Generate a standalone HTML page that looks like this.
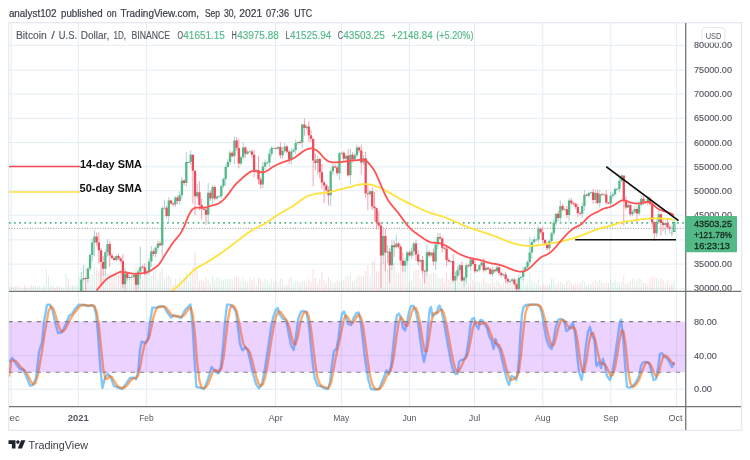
<!DOCTYPE html><html><head><meta charset="utf-8"><title>Bitcoin / U.S. Dollar</title>
<style>html,body{margin:0;padding:0;background:#fff;overflow:hidden}svg{display:block}text{font-family:"Liberation Sans","DejaVu Sans",sans-serif}</style></head><body>
<svg width="750" height="460" viewBox="0 0 750 460">
<rect width="750" height="460" fill="#fff"/>
<defs><filter id="bl" x="0" y="0" width="750" height="460" filterUnits="userSpaceOnUse"><feGaussianBlur stdDeviation="0.35"/></filter><clipPath id="cm"><rect x="9" y="23" width="676.6" height="268"/></clipPath><clipPath id="cs"><rect x="9" y="292" width="676.6" height="114"/></clipPath><clipPath id="ct"><rect x="9" y="407" width="676" height="23"/></clipPath></defs>
<text y="17.2" font-size="10" fill="#3a3d46" stroke="#3a3d46" stroke-width="0.2"><tspan x="8.9" textLength="47.7" lengthAdjust="spacingAndGlyphs">analyst102</tspan> <tspan x="61" textLength="41.6" lengthAdjust="spacingAndGlyphs">published</tspan> <tspan x="106.8" textLength="9.8" lengthAdjust="spacingAndGlyphs">on</tspan> <tspan x="120.6" textLength="78.4" lengthAdjust="spacingAndGlyphs">TradingView.com,</tspan> <tspan x="205" textLength="15.0" lengthAdjust="spacingAndGlyphs">Sep</tspan> <tspan x="224" textLength="12.0" lengthAdjust="spacingAndGlyphs">30,</tspan> <tspan x="239.2" textLength="23.0" lengthAdjust="spacingAndGlyphs">2021</tspan> <tspan x="266" textLength="23.0" lengthAdjust="spacingAndGlyphs">07:36</tspan> <tspan x="294.2" textLength="18.0" lengthAdjust="spacingAndGlyphs">UTC</tspan></text>
<rect x="8.6" y="22.7" width="733" height="407.6" fill="none" stroke="#e6e9f0" stroke-width="1.3"/>
<path d="M11.2 23V406.6M78.3 23V406.6M146.4 23V406.6M275.6 23V406.6M341.3 23V406.6M409.4 23V406.6M474.5 23V406.6M542.8 23V406.6M610.8 23V406.6M676.4 23V406.6M9 288.3H685M9 264.1H685M9 239.9H685M9 215.2H685M9 190.7H685M9 166.8H685M9 142.6H685M9 118.3H685M9 94.0H685M9 70.1H685M9 45.3H685M9 389.2H685M9 355.4H685" stroke="#e3edf3" stroke-width="1" fill="none"/>
<g clip-path="url(#cm)"><g filter="url(#bl)">
<path d="M9.14 290.9v-3.4M13.51 290.9v-3.9M15.70 290.9v-4.8M20.07 290.9v-2.7M22.26 290.9v-2.5M28.82 290.9v-3.4M35.38 290.9v-5.7M37.57 290.9v-4.3M39.76 290.9v-4.9M41.95 290.9v-3.0M44.13 290.9v-4.9M46.32 290.9v-22.0M48.51 290.9v-15.0M50.70 290.9v-5.3M57.26 290.9v-5.4M61.63 290.9v-3.6M63.82 290.9v-2.6M66.01 290.9v-17.0M70.38 290.9v-5.2M72.57 290.9v-5.8M74.76 290.9v-5.2M76.94 290.9v-6.0M79.13 290.9v-14.1M81.32 290.9v-24.0M83.50 290.9v-18.7M87.88 290.9v-23.4M90.07 290.9v-14.5M92.25 290.9v-15.9M94.44 290.9v-25.0M105.38 290.9v-20.4M107.56 290.9v-17.5M116.31 290.9v-20.6M125.06 290.9v-26.3M129.44 290.9v-11.3M131.63 290.9v-19.0M133.81 290.9v-21.3M138.19 290.9v-21.2M140.37 290.9v-20.0M146.94 290.9v-16.6M149.12 290.9v-16.6M151.31 290.9v-14.9M155.69 290.9v-23.0M157.87 290.9v-11.9M162.25 290.9v-24.0M164.43 290.9v-12.0M168.81 290.9v-15.7M175.37 290.9v-12.1M179.75 290.9v-13.3M181.93 290.9v-11.3M186.31 290.9v-17.8M188.50 290.9v-9.6M190.68 290.9v-15.5M197.24 290.9v-22.0M208.18 290.9v-11.0M212.56 290.9v-15.2M216.93 290.9v-13.8M219.12 290.9v-13.0M221.30 290.9v-10.5M223.49 290.9v-10.6M225.68 290.9v-12.4M227.87 290.9v-11.8M230.05 290.9v-12.1M234.43 290.9v-14.0M240.99 290.9v-10.2M243.18 290.9v-13.4M247.55 290.9v-8.4M249.74 290.9v-13.6M256.30 290.9v-5.8M262.86 290.9v-9.1M265.05 290.9v-11.8M267.24 290.9v-10.9M269.43 290.9v-8.1M271.61 290.9v-11.8M273.80 290.9v-9.3M278.17 290.9v-8.2M282.55 290.9v-12.0M284.74 290.9v-6.3M291.30 290.9v-14.4M293.49 290.9v-7.4M295.67 290.9v-10.2M297.86 290.9v-9.9M302.23 290.9v-10.5M306.61 290.9v-8.3M317.55 290.9v-7.5M330.67 290.9v-10.9M332.86 290.9v-7.7M339.42 290.9v-9.2M341.61 290.9v-9.4M345.98 290.9v-14.7M350.36 290.9v-19.0M354.73 290.9v-10.3M356.92 290.9v-13.9M363.48 290.9v-15.7M370.04 290.9v-14.5M383.16 290.9v-27.0M387.54 290.9v-22.0M391.91 290.9v-22.7M396.29 290.9v-18.9M405.04 290.9v-21.8M407.23 290.9v-29.5M411.60 290.9v-9.6M413.79 290.9v-20.0M420.35 290.9v-12.2M426.91 290.9v-14.7M431.29 290.9v-16.8M435.66 290.9v-17.8M437.85 290.9v-13.6M450.97 290.9v-16.0M455.35 290.9v-20.0M457.53 290.9v-17.2M459.72 290.9v-19.1M464.09 290.9v-19.3M466.28 290.9v-18.4M470.66 290.9v-18.3M477.22 290.9v-9.2M479.41 290.9v-8.9M481.59 290.9v-8.0M485.97 290.9v-9.2M492.53 290.9v-11.7M496.90 290.9v-10.9M503.47 290.9v-8.3M510.03 290.9v-10.2M512.22 290.9v-11.1M518.78 290.9v-7.4M520.96 290.9v-9.1M523.15 290.9v-12.4M525.34 290.9v-5.7M527.53 290.9v-7.7M529.71 290.9v-18.0M531.90 290.9v-10.7M534.09 290.9v-8.1M536.28 290.9v-7.7M538.46 290.9v-11.8M549.40 290.9v-6.4M551.59 290.9v-12.2M553.77 290.9v-12.2M555.96 290.9v-6.4M560.34 290.9v-9.4M564.71 290.9v-7.0M569.09 290.9v-11.1M582.21 290.9v-11.0M584.40 290.9v-9.3M588.77 290.9v-6.0M590.96 290.9v-7.1M595.33 290.9v-11.1M599.71 290.9v-11.7M604.08 290.9v-7.3M610.64 290.9v-11.5M612.83 290.9v-8.4M615.02 290.9v-10.8M617.21 290.9v-8.2M619.39 290.9v-8.4M621.58 290.9v-9.4M628.14 290.9v-8.3M632.52 290.9v-11.8M634.70 290.9v-12.2M639.08 290.9v-12.9M641.27 290.9v-11.8M647.83 290.9v-6.8M656.58 290.9v-12.8M658.76 290.9v-11.5M665.33 290.9v-7.5M674.08 290.9v-11.9" stroke="#53b987" stroke-opacity="0.22" stroke-width="1" fill="none"/>
<path d="M11.32 290.9v-4.5M17.89 290.9v-4.9M24.45 290.9v-5.7M26.63 290.9v-3.4M31.01 290.9v-6.3M33.20 290.9v-4.3M52.88 290.9v-5.0M55.07 290.9v-2.7M59.44 290.9v-4.7M68.19 290.9v-12.0M85.69 290.9v-25.6M96.63 290.9v-23.2M98.82 290.9v-19.6M101.00 290.9v-26.0M103.19 290.9v-17.9M109.75 290.9v-18.5M111.94 290.9v-16.7M114.13 290.9v-16.2M118.50 290.9v-17.9M120.69 290.9v-20.8M122.88 290.9v-22.0M127.25 290.9v-18.8M136.00 290.9v-25.2M142.56 290.9v-11.5M144.75 290.9v-21.8M153.50 290.9v-20.2M160.06 290.9v-19.0M166.62 290.9v-14.3M171.00 290.9v-13.3M173.18 290.9v-6.3M177.56 290.9v-7.0M184.12 290.9v-13.5M192.87 290.9v-24.0M195.06 290.9v-39.0M199.43 290.9v-10.0M201.62 290.9v-10.4M203.81 290.9v-9.2M205.99 290.9v-13.5M210.37 290.9v-7.3M214.74 290.9v-10.3M232.24 290.9v-10.7M236.62 290.9v-14.8M238.80 290.9v-13.5M245.36 290.9v-8.8M251.93 290.9v-10.7M254.11 290.9v-13.7M258.49 290.9v-12.9M260.68 290.9v-11.8M275.99 290.9v-10.4M280.36 290.9v-12.4M286.92 290.9v-6.5M289.11 290.9v-11.9M300.05 290.9v-7.9M304.42 290.9v-9.3M308.80 290.9v-11.9M310.98 290.9v-8.6M313.17 290.9v-22.0M315.36 290.9v-13.0M319.73 290.9v-12.1M321.92 290.9v-19.0M324.11 290.9v-10.4M326.29 290.9v-7.7M328.48 290.9v-13.9M335.04 290.9v-8.8M337.23 290.9v-11.6M343.79 290.9v-10.8M348.17 290.9v-14.6M352.54 290.9v-9.1M359.10 290.9v-15.2M361.29 290.9v-14.8M365.67 290.9v-20.1M367.85 290.9v-25.6M372.23 290.9v-29.2M374.42 290.9v-31.1M376.60 290.9v-20.0M378.79 290.9v-19.4M380.98 290.9v-40.0M385.35 290.9v-30.6M389.73 290.9v-26.0M394.10 290.9v-28.2M398.48 290.9v-17.5M400.66 290.9v-24.6M402.85 290.9v-24.2M409.41 290.9v-10.0M415.97 290.9v-21.4M418.16 290.9v-21.2M422.54 290.9v-21.8M424.72 290.9v-20.3M429.10 290.9v-16.4M433.47 290.9v-18.3M440.03 290.9v-11.8M442.22 290.9v-13.0M444.41 290.9v-8.1M446.60 290.9v-18.5M448.78 290.9v-11.0M453.16 290.9v-12.8M461.91 290.9v-21.7M468.47 290.9v-7.8M472.84 290.9v-10.5M475.03 290.9v-8.5M483.78 290.9v-13.0M488.16 290.9v-7.1M490.34 290.9v-7.3M494.72 290.9v-8.1M499.09 290.9v-8.8M501.28 290.9v-6.6M505.65 290.9v-11.7M507.84 290.9v-6.6M514.40 290.9v-11.0M516.59 290.9v-11.4M540.65 290.9v-5.1M542.84 290.9v-7.1M545.02 290.9v-6.1M547.21 290.9v-6.2M558.15 290.9v-8.9M562.52 290.9v-7.3M566.90 290.9v-10.1M571.27 290.9v-7.6M573.46 290.9v-6.0M575.65 290.9v-7.2M577.83 290.9v-6.7M580.02 290.9v-8.5M586.58 290.9v-5.1M593.15 290.9v-10.1M597.52 290.9v-8.7M601.89 290.9v-8.7M606.27 290.9v-8.5M608.46 290.9v-7.8M623.77 290.9v-16.0M625.96 290.9v-7.0M630.33 290.9v-9.6M636.89 290.9v-9.6M643.45 290.9v-7.7M645.64 290.9v-8.2M650.02 290.9v-11.7M652.20 290.9v-14.0M654.39 290.9v-14.0M660.95 290.9v-13.3M663.14 290.9v-10.3M667.51 290.9v-10.4M669.70 290.9v-6.0M671.89 290.9v-7.3" stroke="#eb4d5c" stroke-opacity="0.2" stroke-width="1" fill="none"/>
<path d="M9 222.9H685" stroke="#4fb783" stroke-width="1.7" stroke-dasharray="1.7 3.4" fill="none"/>
<path d="M9 228.4H685" stroke="#8a8a8a" stroke-width="0.9" stroke-dasharray="1 1.6" fill="none"/>
<path d="M79.13 290.3V294.5M81.32 272.1V293.7M83.50 264.8V280.8M87.88 267.0V282.4M90.07 252.8V271.1M92.25 238.4V261.2M94.44 230.0V256.5M105.38 249.1V276.5M107.56 239.0V256.7M116.31 255.0V261.4M125.06 268.3V294.0M129.44 275.5V280.1M131.63 275.4V277.9M133.81 272.4V277.9M138.19 268.7V289.2M140.37 246.8V278.9M146.94 269.1V275.0M149.12 257.4V274.6M151.31 245.9V267.2M155.69 246.5V257.6M157.87 240.7V251.5M162.25 206.4V257.9M164.43 199.6V209.6M168.81 197.1V222.9M175.37 196.2V207.2M179.75 191.5V204.9M181.93 177.0V199.6M186.31 152.1V186.8M188.50 161.3V162.9M190.68 150.4V165.1M197.24 184.0V198.5M208.18 183.0V223.8M212.56 184.7V203.4M216.93 195.5V199.6M219.12 195.1V197.3M221.30 184.4V198.4M223.49 177.6V188.4M225.68 165.1V185.3M227.87 159.3V168.3M230.05 150.3V165.0M234.43 136.3V164.4M240.99 154.9V165.5M243.18 142.4V159.4M247.55 150.1V154.8M249.74 149.9V152.4M256.30 168.8V172.1M262.86 161.9V188.3M265.05 159.5V169.9M267.24 160.8V164.2M269.43 149.1V166.9M271.61 146.1V156.5M273.80 146.9V148.5M278.17 145.8V150.4M282.55 147.3V158.9M284.74 142.9V152.8M291.30 147.6V164.5M293.49 148.0V152.8M295.67 139.5V154.2M297.86 141.4V144.8M302.23 123.6V148.2M306.61 125.3V130.1M317.55 155.9V174.7M330.67 169.4V206.1M332.86 164.2V174.8M339.42 151.8V180.1M341.61 151.9V154.5M345.98 154.1V160.5M350.36 149.0V184.7M354.73 152.9V160.6M356.92 144.5V157.2M363.48 155.2V165.0M370.04 190.3V196.3M383.16 226.8V263.9M387.54 244.9V262.9M391.91 240.0V269.7M396.29 235.1V248.5M405.04 257.7V271.6M407.23 250.7V265.1M411.60 247.8V259.2M413.79 241.9V256.1M420.35 259.0V262.9M426.91 244.5V276.5M431.29 251.8V257.1M435.66 241.8V270.1M437.85 233.0V249.1M450.97 260.2V263.4M455.35 272.1V294.0M457.53 266.9V278.5M459.72 264.1V273.9M464.09 276.5V287.2M466.28 263.3V283.6M470.66 256.4V270.7M477.22 268.9V272.1M479.41 264.2V271.2M481.59 260.9V266.8M485.97 265.9V271.3M492.53 266.7V276.5M496.90 263.9V272.3M503.47 273.4V276.4M510.03 279.2V282.9M512.22 278.0V282.2M518.78 275.1V291.6M520.96 276.3V280.0M523.15 266.6V280.4M525.34 265.7V272.1M527.53 260.0V269.7M529.71 236.8V265.2M531.90 239.1V258.7M534.09 236.6V243.9M536.28 238.7V241.4M538.46 225.8V242.7M549.40 239.4V250.9M551.59 231.7V242.3M553.77 219.5V235.8M555.96 213.7V226.0M560.34 200.5V224.3M564.71 207.2V210.6M569.09 198.4V221.7M582.21 202.4V218.3M584.40 189.8V210.8M588.77 191.9V197.2M590.96 191.5V195.0M595.33 189.6V203.7M599.71 189.6V207.4M604.08 192.9V195.3M610.64 191.6V205.5M612.83 192.2V198.2M615.02 186.6V196.4M617.21 187.6V190.7M619.39 176.6V192.5M621.58 173.8V182.1M628.14 202.9V208.1M632.52 209.9V216.3M634.70 206.7V213.4M639.08 201.4V215.3M641.27 194.9V206.4M647.83 195.9V205.8M656.58 219.7V236.6M658.76 209.3V223.7M665.33 220.5V234.7M671.89 225.4V236.3M674.08 220.1V232.1" stroke="#9fc9cf" stroke-width="1" stroke-opacity="0.85" fill="none"/>
<path d="M85.69 277.3V297.9M96.63 232.7V245.8M98.82 232.7V263.4M101.00 247.8V286.3M103.19 256.1V276.0M109.75 241.0V266.8M111.94 253.4V259.6M114.13 256.2V260.8M118.50 253.8V260.2M120.69 257.1V262.9M122.88 254.3V287.7M127.25 272.0V280.5M136.00 271.8V292.1M142.56 265.0V268.7M144.75 263.4V275.2M153.50 249.3V256.4M160.06 241.0V246.6M166.62 205.9V217.9M171.00 199.5V204.8M173.18 202.2V206.5M177.56 195.4V204.0M184.12 179.1V185.7M192.87 154.3V203.5M195.06 170.3V215.2M199.43 181.1V210.3M201.62 198.6V219.5M203.81 207.0V210.5M205.99 206.2V224.9M210.37 190.4V200.9M214.74 184.9V200.6M232.24 151.1V157.4M236.62 137.2V150.9M238.80 139.2V168.4M245.36 146.3V158.1M251.93 149.2V158.0M254.11 149.9V177.3M258.49 155.7V184.4M260.68 177.1V188.9M275.99 147.4V149.4M280.36 141.9V158.3M286.92 144.8V153.6M289.11 149.8V164.0M300.05 140.1V144.4M304.42 118.5V135.8M308.80 121.2V142.1M310.98 129.9V141.9M313.17 138.7V186.4M315.36 153.8V170.3M319.73 157.7V178.6M321.92 164.0V188.9M324.11 180.6V203.0M326.29 184.1V191.3M328.48 186.5V205.4M335.04 164.4V168.4M337.23 165.5V175.3M343.79 151.3V162.7M348.17 149.0V176.7M352.54 152.3V162.2M359.10 146.7V153.0M361.29 144.5V174.2M365.67 151.8V197.6M367.85 184.0V210.3M372.23 187.4V210.0M374.42 191.8V221.0M376.60 207.4V229.8M378.79 211.3V227.2M380.98 222.0V288.2M385.35 228.8V271.2M389.73 247.8V282.8M394.10 240.5V257.0M398.48 242.3V248.7M400.66 244.6V265.3M402.85 252.6V271.6M409.41 250.3V256.7M415.97 239.9V260.9M418.16 250.0V265.5M422.54 256.0V273.8M424.72 269.7V283.3M429.10 250.0V257.5M433.47 248.7V265.8M440.03 233.2V239.7M442.22 236.9V252.5M444.41 246.7V249.6M446.60 245.1V266.0M448.78 257.8V262.5M453.16 254.3V282.4M461.91 261.4V281.9M468.47 263.9V267.5M472.84 257.8V265.1M475.03 260.7V273.2M483.78 258.2V272.5M488.16 266.5V269.9M490.34 267.5V275.1M494.72 268.7V272.7M499.09 263.6V275.6M501.28 271.4V277.4M505.65 271.7V282.6M507.84 277.5V283.9M514.40 278.3V285.7M516.59 283.1V291.6M540.65 228.0V234.0M542.84 226.8V243.2M545.02 238.7V245.5M547.21 242.4V250.0M558.15 210.7V220.8M562.52 204.0V211.5M566.90 206.0V218.0M571.27 197.8V205.4M573.46 201.5V205.5M575.65 202.6V208.9M577.83 204.1V216.8M580.02 211.0V215.6M586.58 193.7V196.3M593.15 188.9V203.7M597.52 189.3V204.5M601.89 192.9V196.1M606.27 190.3V204.8M608.46 201.8V204.5M623.77 175.5V225.7M625.96 196.1V209.7M630.33 203.3V216.7M636.89 206.7V222.9M643.45 195.8V204.7M645.64 201.2V203.8M650.02 196.5V205.8M652.20 200.2V227.3M654.39 221.5V241.0M660.95 213.2V235.7M663.14 220.4V231.2M667.51 218.6V229.3M669.70 224.4V233.3" stroke="#f28a98" stroke-width="1" stroke-opacity="0.8" fill="none"/>
<path d="M79.13 291.6V293.6M81.32 279.4V291.6M83.50 278.0V279.4M87.88 268.7V278.9M90.07 255.1V268.7M92.25 242.4V255.1M94.44 236.6V242.4M105.38 252.2V268.7M107.56 243.9V252.2M116.31 256.1V260.0M125.06 273.6V284.3M129.44 277.0V278.0M131.63 277.0V277.8M133.81 275.1V277.0M138.19 271.6V284.8M140.37 266.8V271.6M146.94 271.2V273.1M149.12 261.4V271.2M151.31 251.2V261.4M155.69 247.8V254.1M157.87 243.4V247.8M162.25 208.3V245.3M164.43 207.8V208.6M168.81 200.5V216.1M175.37 197.6V204.4M179.75 195.2V201.0M181.93 180.6V195.2M186.31 162.1V183.0M188.50 162.1V162.9M190.68 154.8V162.1M197.24 192.3V196.2M208.18 192.7V214.7M212.56 186.9V198.6M216.93 196.6V198.6M219.12 196.2V197.0M221.30 185.9V196.2M223.49 179.1V185.9M225.68 166.9V179.1M227.87 162.1V166.9M230.05 152.8V162.1M234.43 140.6V156.2M240.99 157.2V163.5M243.18 147.5V157.2M247.55 151.8V153.8M249.74 151.4V152.2M256.30 169.9V170.8M262.86 166.4V184.5M265.05 162.6V166.4M267.24 162.6V163.4M269.43 153.8V162.6M271.61 147.9V153.8M273.80 147.9V148.7M278.17 147.0V148.4M282.55 150.9V155.2M284.74 146.5V150.9M291.30 151.4V159.6M293.49 150.1V151.4M295.67 143.1V150.1M297.86 142.1V143.1M302.23 124.6V142.6M306.61 126.5V128.0M317.55 159.1V163.0M330.67 171.3V195.2M332.86 166.4V171.3M339.42 153.3V173.3M341.61 152.8V153.6M345.98 155.7V158.7M350.36 154.8V175.2M354.73 155.2V159.6M356.92 147.5V155.2M363.48 158.2V162.6M370.04 191.3V194.2M383.16 236.1V255.6M387.54 251.7V252.6M391.91 245.3V265.3M396.29 243.4V247.3M405.04 260.9V265.8M407.23 252.6V260.9M411.60 251.2V255.6M413.79 243.4V251.2M420.35 260.0V261.4M426.91 252.2V271.6M431.29 252.6V255.6M435.66 244.4V261.4M437.85 237.1V244.4M450.97 260.9V261.7M455.35 276.0V280.4M457.53 270.2V276.0M459.72 265.3V270.2M464.09 277.5V280.4M466.28 265.3V277.5M470.66 259.5V266.3M477.22 269.7V271.2M479.41 265.3V269.7M481.59 262.4V265.3M485.97 267.7V270.2M492.53 269.7V274.1M496.90 267.3V271.2M503.47 274.6V275.4M510.03 280.9V281.7M512.22 279.4V280.9M518.78 278.0V289.2M520.96 277.0V278.0M523.15 270.7V277.0M525.34 267.3V270.7M527.53 261.9V267.3M529.71 252.6V261.9M531.90 241.9V252.6M534.09 239.5V241.9M536.28 239.5V240.3M538.46 228.8V239.5M549.40 241.0V248.3M551.59 233.2V241.0M553.77 222.5V233.2M555.96 213.7V222.5M560.34 205.9V218.1M564.71 209.3V210.1M569.09 200.5V214.9M582.21 205.9V213.7M584.40 194.7V205.9M588.77 193.0V195.7M590.96 192.3V193.1M595.33 193.0V200.1M599.71 194.2V203.0M604.08 194.5V195.3M610.64 195.7V203.5M612.83 194.2V195.7M615.02 189.1V194.2M617.21 188.9V189.7M619.39 180.8V188.9M621.58 175.5V180.8M628.14 204.9V207.4M632.52 212.0V214.2M634.70 209.1V212.0M639.08 204.7V213.4M641.27 198.8V204.7M647.83 198.8V202.5M656.58 222.0V233.2M658.76 214.2V222.0M665.33 222.9V224.9M671.89 232.7V233.5" stroke="#53b987" stroke-width="2.3" fill="none"/>
<path d="M85.69 278.0V278.9M96.63 236.6V242.4M98.82 242.4V250.2M101.00 250.2V261.9M103.19 261.9V268.7M109.75 243.9V255.6M111.94 255.6V258.0M114.13 258.0V260.0M118.50 256.1V258.5M120.69 258.5V260.9M122.88 260.9V284.3M127.25 273.6V278.0M136.00 275.1V284.8M142.56 266.8V267.6M144.75 267.3V273.1M153.50 251.2V254.1M160.06 243.4V245.3M166.62 207.8V216.1M171.00 200.5V203.5M173.18 203.5V204.4M177.56 197.6V201.0M184.12 180.6V183.0M192.87 154.8V170.8M195.06 170.8V196.2M199.43 192.3V204.9M201.62 204.9V208.8M203.81 208.8V209.8M205.99 209.8V214.7M210.37 192.7V198.6M214.74 186.9V198.6M232.24 152.8V156.2M236.62 140.6V147.9M238.80 147.9V163.5M245.36 147.5V153.8M251.93 151.4V154.8M254.11 154.8V170.8M258.49 169.9V179.6M260.68 179.6V184.5M275.99 147.9V148.7M280.36 147.0V155.2M286.92 146.5V151.8M289.11 151.8V159.6M300.05 142.1V142.9M304.42 124.6V128.0M308.80 126.5V135.3M310.98 135.3V138.7M313.17 138.7V160.6M315.36 160.6V163.0M319.73 159.1V172.3M321.92 172.3V182.5M324.11 182.5V185.4M326.29 185.4V190.3M328.48 190.3V195.2M335.04 166.4V167.4M337.23 167.4V173.3M343.79 152.8V158.7M348.17 155.7V175.2M352.54 154.8V159.6M359.10 147.5V150.4M361.29 150.4V162.6M365.67 158.2V193.2M367.85 193.2V194.2M372.23 191.3V206.4M374.42 206.4V208.3M376.60 208.3V222.5M378.79 222.5V225.4M380.98 225.4V255.6M385.35 236.1V252.6M389.73 251.7V265.3M394.10 245.3V247.3M398.48 243.4V246.8M400.66 246.8V260.4M402.85 260.4V265.8M409.41 252.6V255.6M415.97 243.4V254.6M418.16 254.6V261.4M422.54 260.0V270.7M424.72 270.7V271.6M429.10 252.2V255.6M433.47 252.6V261.4M440.03 237.1V238.5M442.22 238.5V247.8M444.41 247.8V248.8M446.60 248.8V260.0M448.78 260.0V261.4M453.16 260.9V280.4M461.91 265.3V280.4M468.47 265.3V266.3M472.84 259.5V263.9M475.03 263.9V271.2M483.78 262.4V270.2M488.16 267.7V269.2M490.34 269.2V274.1M494.72 269.7V271.2M499.09 267.3V273.1M501.28 273.1V275.1M505.65 274.6V278.9M507.84 278.9V281.4M514.40 279.4V284.3M516.59 284.3V289.2M540.65 228.8V232.2M542.84 232.2V240.0M545.02 240.0V243.4M547.21 243.4V248.3M558.15 213.7V218.1M562.52 205.9V209.8M566.90 209.3V214.9M571.27 200.5V203.2M573.46 203.2V204.0M575.65 203.7V206.9M577.83 206.9V213.0M580.02 213.0V213.8M586.58 194.7V195.7M593.15 192.3V200.1M597.52 193.0V203.0M601.89 194.2V195.0M606.27 194.5V202.5M608.46 202.5V203.5M623.77 175.5V200.1M625.96 200.1V207.4M630.33 204.9V214.2M636.89 209.1V213.4M643.45 198.8V201.8M645.64 201.8V202.6M650.02 198.8V203.9M652.20 203.9V222.0M654.39 222.0V233.2M660.95 214.2V222.9M663.14 222.9V224.9M667.51 222.9V227.3M669.70 227.3V228.8" stroke="#eb4d5c" stroke-width="2.3" fill="none"/>
<rect x="673.23" y="222.4" width="1.7" height="9.0" fill="#eef6f2" stroke="#3fae7a" stroke-width="1"/>
<path d="M170.5 292.36L171.5 291.46L172.5 290.62L173.5 289.79L174.5 288.98L175.5 288.17L176.5 287.33L177.5 286.46L178.5 285.55L179.5 284.60L180.5 283.62L181.5 282.62L182.5 281.59L183.5 280.55L184.5 279.51L185.5 278.46L186.5 277.41L187.5 276.38L188.5 275.36L189.5 274.36L190.5 273.38L191.5 272.43L192.5 271.52L193.5 270.64L194.5 269.81L195.5 269.02L196.5 268.28L197.5 267.60L198.5 266.97L199.5 266.39L200.5 265.85L201.5 265.33L202.5 264.82L203.5 264.30L204.5 263.76L205.5 263.20L206.5 262.60L207.5 261.98L208.5 261.34L209.5 260.69L210.5 260.04L211.5 259.40L212.5 258.77L213.5 258.13L214.5 257.49L215.5 256.85L216.5 256.20L217.5 255.55L218.5 254.89L219.5 254.21L220.5 253.53L221.5 252.83L222.5 252.11L223.5 251.39L224.5 250.66L225.5 249.92L226.5 249.18L227.5 248.43L228.5 247.68L229.5 246.93L230.5 246.17L231.5 245.42L232.5 244.66L233.5 243.90L234.5 243.14L235.5 242.39L236.5 241.63L237.5 240.87L238.5 240.11L239.5 239.35L240.5 238.60L241.5 237.84L242.5 237.08L243.5 236.33L244.5 235.58L245.5 234.83L246.5 234.08L247.5 233.35L248.5 232.63L249.5 231.93L250.5 231.25L251.5 230.59L252.5 229.95L253.5 229.35L254.5 228.78L255.5 228.24L256.5 227.73L257.5 227.24L258.5 226.76L259.5 226.28L260.5 225.81L261.5 225.33L262.5 224.84L263.5 224.33L264.5 223.80L265.5 223.24L266.5 222.64L267.5 222.00L268.5 221.33L269.5 220.64L270.5 219.93L271.5 219.21L272.5 218.49L273.5 217.77L274.5 217.06L275.5 216.36L276.5 215.68L277.5 215.03L278.5 214.40L279.5 213.79L280.5 213.19L281.5 212.60L282.5 212.03L283.5 211.46L284.5 210.90L285.5 210.34L286.5 209.78L287.5 209.21L288.5 208.64L289.5 208.06L290.5 207.47L291.5 206.86L292.5 206.24L293.5 205.59L294.5 204.93L295.5 204.24L296.5 203.52L297.5 202.78L298.5 202.02L299.5 201.26L300.5 200.51L301.5 199.77L302.5 199.07L303.5 198.40L304.5 197.78L305.5 197.21L306.5 196.70L307.5 196.23L308.5 195.81L309.5 195.43L310.5 195.09L311.5 194.79L312.5 194.52L313.5 194.28L314.5 194.07L315.5 193.89L316.5 193.73L317.5 193.59L318.5 193.46L319.5 193.35L320.5 193.24L321.5 193.14L322.5 193.05L323.5 192.95L324.5 192.84L325.5 192.73L326.5 192.61L327.5 192.47L328.5 192.32L329.5 192.14L330.5 191.94L331.5 191.72L332.5 191.48L333.5 191.22L334.5 190.95L335.5 190.67L336.5 190.38L337.5 190.10L338.5 189.82L339.5 189.54L340.5 189.28L341.5 189.03L342.5 188.79L343.5 188.56L344.5 188.33L345.5 188.10L346.5 187.87L347.5 187.63L348.5 187.39L349.5 187.14L350.5 186.87L351.5 186.59L352.5 186.31L353.5 186.02L354.5 185.74L355.5 185.46L356.5 185.20L357.5 184.96L358.5 184.74L359.5 184.54L360.5 184.38L361.5 184.26L362.5 184.17L363.5 184.12L364.5 184.10L365.5 184.12L366.5 184.16L367.5 184.25L368.5 184.36L369.5 184.50L370.5 184.68L371.5 184.89L372.5 185.13L373.5 185.39L374.5 185.69L375.5 186.02L376.5 186.37L377.5 186.75L378.5 187.15L379.5 187.57L380.5 188.02L381.5 188.48L382.5 188.96L383.5 189.46L384.5 189.98L385.5 190.50L386.5 191.04L387.5 191.59L388.5 192.15L389.5 192.72L390.5 193.29L391.5 193.87L392.5 194.44L393.5 195.03L394.5 195.61L395.5 196.19L396.5 196.76L397.5 197.33L398.5 197.90L399.5 198.46L400.5 199.01L401.5 199.55L402.5 200.08L403.5 200.60L404.5 201.12L405.5 201.63L406.5 202.13L407.5 202.62L408.5 203.11L409.5 203.60L410.5 204.08L411.5 204.56L412.5 205.03L413.5 205.50L414.5 205.97L415.5 206.44L416.5 206.90L417.5 207.37L418.5 207.84L419.5 208.31L420.5 208.78L421.5 209.25L422.5 209.71L423.5 210.17L424.5 210.63L425.5 211.07L426.5 211.50L427.5 211.91L428.5 212.31L429.5 212.68L430.5 213.03L431.5 213.35L432.5 213.65L433.5 213.94L434.5 214.22L435.5 214.49L436.5 214.76L437.5 215.03L438.5 215.30L439.5 215.59L440.5 215.89L441.5 216.21L442.5 216.54L443.5 216.89L444.5 217.25L445.5 217.62L446.5 218.00L447.5 218.40L448.5 218.80L449.5 219.22L450.5 219.64L451.5 220.06L452.5 220.50L453.5 220.93L454.5 221.38L455.5 221.82L456.5 222.27L457.5 222.71L458.5 223.16L459.5 223.61L460.5 224.05L461.5 224.49L462.5 224.93L463.5 225.36L464.5 225.79L465.5 226.20L466.5 226.62L467.5 227.02L468.5 227.41L469.5 227.79L470.5 228.16L471.5 228.52L472.5 228.87L473.5 229.21L474.5 229.54L475.5 229.87L476.5 230.18L477.5 230.50L478.5 230.81L479.5 231.11L480.5 231.42L481.5 231.72L482.5 232.03L483.5 232.33L484.5 232.64L485.5 232.96L486.5 233.28L487.5 233.60L488.5 233.94L489.5 234.28L490.5 234.63L491.5 234.99L492.5 235.36L493.5 235.74L494.5 236.12L495.5 236.51L496.5 236.91L497.5 237.30L498.5 237.70L499.5 238.10L500.5 238.51L501.5 238.91L502.5 239.31L503.5 239.70L504.5 240.09L505.5 240.48L506.5 240.86L507.5 241.24L508.5 241.60L509.5 241.96L510.5 242.31L511.5 242.64L512.5 242.97L513.5 243.28L514.5 243.58L515.5 243.86L516.5 244.13L517.5 244.38L518.5 244.62L519.5 244.84L520.5 245.05L521.5 245.23L522.5 245.40L523.5 245.55L524.5 245.68L525.5 245.78L526.5 245.87L527.5 245.93L528.5 245.97L529.5 245.99L530.5 245.98L531.5 245.94L532.5 245.89L533.5 245.82L534.5 245.73L535.5 245.62L536.5 245.51L537.5 245.38L538.5 245.25L539.5 245.11L540.5 244.97L541.5 244.83L542.5 244.69L543.5 244.55L544.5 244.40L545.5 244.25L546.5 244.10L547.5 243.95L548.5 243.79L549.5 243.63L550.5 243.46L551.5 243.30L552.5 243.13L553.5 242.95L554.5 242.77L555.5 242.59L556.5 242.40L557.5 242.20L558.5 242.00L559.5 241.80L560.5 241.59L561.5 241.37L562.5 241.15L563.5 240.92L564.5 240.69L565.5 240.45L566.5 240.20L567.5 239.94L568.5 239.68L569.5 239.41L570.5 239.13L571.5 238.84L572.5 238.55L573.5 238.24L574.5 237.93L575.5 237.61L576.5 237.28L577.5 236.94L578.5 236.59L579.5 236.23L580.5 235.86L581.5 235.48L582.5 235.09L583.5 234.69L584.5 234.30L585.5 233.89L586.5 233.49L587.5 233.08L588.5 232.68L589.5 232.27L590.5 231.87L591.5 231.48L592.5 231.09L593.5 230.71L594.5 230.34L595.5 229.98L596.5 229.64L597.5 229.30L598.5 228.99L599.5 228.69L600.5 228.40L601.5 228.14L602.5 227.89L603.5 227.64L604.5 227.40L605.5 227.16L606.5 226.92L607.5 226.67L608.5 226.40L609.5 226.12L610.5 225.82L611.5 225.49L612.5 225.16L613.5 224.81L614.5 224.46L615.5 224.11L616.5 223.76L617.5 223.43L618.5 223.11L619.5 222.82L620.5 222.55L621.5 222.32L622.5 222.10L623.5 221.91L624.5 221.74L625.5 221.59L626.5 221.44L627.5 221.31L628.5 221.18L629.5 221.05L630.5 220.92L631.5 220.78L632.5 220.64L633.5 220.50L634.5 220.35L635.5 220.21L636.5 220.06L637.5 219.91L638.5 219.76L639.5 219.62L640.5 219.47L641.5 219.33L642.5 219.20L643.5 219.07L644.5 218.95L645.5 218.84L646.5 218.73L647.5 218.64L648.5 218.56L649.5 218.48L650.5 218.42L651.5 218.38L652.5 218.34L653.5 218.32L654.5 218.31L655.5 218.31L656.5 218.32L657.5 218.34L658.5 218.37L659.5 218.40L660.5 218.45L661.5 218.50L662.5 218.56L663.5 218.63L664.5 218.70L665.5 218.78L666.5 218.86L667.5 218.95L668.5 219.04L669.5 219.13L670.5 219.25L671.5 219.39L672.5 219.57L673.5 219.80L673.6 219.82" stroke="#ffe23b" stroke-width="1.8" fill="none" stroke-linejoin="round"/>
<path d="M96.5 290.30L97.5 289.25L98.5 288.13L99.5 286.98L100.5 285.80L101.5 284.62L102.5 283.45L103.5 282.30L104.5 281.21L105.5 280.18L106.5 279.23L107.5 278.38L108.5 277.65L109.5 277.03L110.5 276.50L111.5 276.03L112.5 275.57L113.5 275.11L114.5 274.60L115.5 274.05L116.5 273.48L117.5 272.95L118.5 272.48L119.5 272.12L120.5 271.91L121.5 271.83L122.5 271.87L123.5 271.97L124.5 272.12L125.5 272.28L126.5 272.46L127.5 272.65L128.5 272.84L129.5 273.05L130.5 273.27L131.5 273.48L132.5 273.68L133.5 273.84L134.5 273.94L135.5 273.95L136.5 273.87L137.5 273.74L138.5 273.60L139.5 273.47L140.5 273.39L141.5 273.31L142.5 273.24L143.5 273.14L144.5 273.01L145.5 272.81L146.5 272.54L147.5 272.18L148.5 271.75L149.5 271.24L150.5 270.67L151.5 270.06L152.5 269.41L153.5 268.72L154.5 268.02L155.5 267.32L156.5 266.58L157.5 265.76L158.5 264.81L159.5 263.67L160.5 262.30L161.5 260.75L162.5 259.10L163.5 257.41L164.5 255.74L165.5 254.13L166.5 252.55L167.5 250.99L168.5 249.44L169.5 247.90L170.5 246.37L171.5 244.88L172.5 243.44L173.5 242.06L174.5 240.78L175.5 239.57L176.5 238.41L177.5 237.24L178.5 236.02L179.5 234.70L180.5 233.24L181.5 231.60L182.5 229.79L183.5 227.77L184.5 225.56L185.5 223.16L186.5 220.66L187.5 218.19L188.5 215.85L189.5 213.75L190.5 211.93L191.5 210.46L192.5 209.37L193.5 208.62L194.5 208.15L195.5 207.87L196.5 207.70L197.5 207.61L198.5 207.56L199.5 207.56L200.5 207.58L201.5 207.62L202.5 207.65L203.5 207.66L204.5 207.62L205.5 207.52L206.5 207.32L207.5 207.03L208.5 206.66L209.5 206.27L210.5 205.90L211.5 205.60L212.5 205.35L213.5 205.13L214.5 204.91L215.5 204.65L216.5 204.34L217.5 203.94L218.5 203.45L219.5 202.87L220.5 202.20L221.5 201.44L222.5 200.59L223.5 199.67L224.5 198.66L225.5 197.57L226.5 196.41L227.5 195.17L228.5 193.86L229.5 192.49L230.5 191.08L231.5 189.66L232.5 188.27L233.5 186.93L234.5 185.68L235.5 184.53L236.5 183.47L237.5 182.48L238.5 181.54L239.5 180.63L240.5 179.72L241.5 178.82L242.5 177.92L243.5 177.03L244.5 176.16L245.5 175.31L246.5 174.48L247.5 173.69L248.5 172.97L249.5 172.33L250.5 171.80L251.5 171.41L252.5 171.18L253.5 171.09L254.5 171.12L255.5 171.24L256.5 171.41L257.5 171.61L258.5 171.81L259.5 172.00L260.5 172.15L261.5 172.24L262.5 172.26L263.5 172.17L264.5 171.97L265.5 171.63L266.5 171.15L267.5 170.57L268.5 169.92L269.5 169.22L270.5 168.52L271.5 167.84L272.5 167.19L273.5 166.59L274.5 166.01L275.5 165.47L276.5 164.96L277.5 164.47L278.5 164.01L279.5 163.58L280.5 163.16L281.5 162.77L282.5 162.39L283.5 162.03L284.5 161.68L285.5 161.34L286.5 161.02L287.5 160.70L288.5 160.38L289.5 160.04L290.5 159.66L291.5 159.23L292.5 158.75L293.5 158.22L294.5 157.63L295.5 156.98L296.5 156.29L297.5 155.56L298.5 154.81L299.5 154.06L300.5 153.30L301.5 152.56L302.5 151.85L303.5 151.18L304.5 150.56L305.5 149.99L306.5 149.50L307.5 149.09L308.5 148.77L309.5 148.55L310.5 148.44L311.5 148.46L312.5 148.59L313.5 148.85L314.5 149.23L315.5 149.73L316.5 150.35L317.5 151.08L318.5 151.93L319.5 152.90L320.5 153.97L321.5 155.10L322.5 156.24L323.5 157.35L324.5 158.38L325.5 159.30L326.5 160.11L327.5 160.79L328.5 161.32L329.5 161.72L330.5 161.99L331.5 162.16L332.5 162.26L333.5 162.31L334.5 162.32L335.5 162.31L336.5 162.28L337.5 162.24L338.5 162.17L339.5 162.10L340.5 162.01L341.5 161.90L342.5 161.79L343.5 161.67L344.5 161.55L345.5 161.42L346.5 161.29L347.5 161.16L348.5 161.03L349.5 160.90L350.5 160.77L351.5 160.66L352.5 160.55L353.5 160.45L354.5 160.36L355.5 160.28L356.5 160.20L357.5 160.12L358.5 160.04L359.5 159.96L360.5 159.87L361.5 159.78L362.5 159.74L363.5 159.80L364.5 159.99L365.5 160.37L366.5 160.99L367.5 161.84L368.5 162.89L369.5 164.06L370.5 165.30L371.5 166.57L372.5 167.89L373.5 169.33L374.5 170.93L375.5 172.75L376.5 174.79L377.5 177.01L378.5 179.34L379.5 181.73L380.5 184.13L381.5 186.51L382.5 188.84L383.5 191.10L384.5 193.28L385.5 195.35L386.5 197.31L387.5 199.11L388.5 200.76L389.5 202.26L390.5 203.62L391.5 204.89L392.5 206.08L393.5 207.24L394.5 208.38L395.5 209.54L396.5 210.74L397.5 212.00L398.5 213.30L399.5 214.63L400.5 215.99L401.5 217.37L402.5 218.75L403.5 220.12L404.5 221.47L405.5 222.80L406.5 224.08L407.5 225.32L408.5 226.50L409.5 227.62L410.5 228.65L411.5 229.61L412.5 230.49L413.5 231.32L414.5 232.10L415.5 232.84L416.5 233.55L417.5 234.25L418.5 234.93L419.5 235.62L420.5 236.32L421.5 237.03L422.5 237.75L423.5 238.45L424.5 239.13L425.5 239.78L426.5 240.38L427.5 240.93L428.5 241.41L429.5 241.81L430.5 242.13L431.5 242.36L432.5 242.52L433.5 242.63L434.5 242.71L435.5 242.77L436.5 242.83L437.5 242.90L438.5 243.01L439.5 243.16L440.5 243.39L441.5 243.68L442.5 244.04L443.5 244.46L444.5 244.93L445.5 245.45L446.5 246.01L447.5 246.60L448.5 247.22L449.5 247.86L450.5 248.51L451.5 249.17L452.5 249.83L453.5 250.49L454.5 251.13L455.5 251.76L456.5 252.35L457.5 252.93L458.5 253.47L459.5 253.99L460.5 254.48L461.5 254.94L462.5 255.38L463.5 255.79L464.5 256.18L465.5 256.55L466.5 256.89L467.5 257.21L468.5 257.51L469.5 257.79L470.5 258.04L471.5 258.28L472.5 258.50L473.5 258.70L474.5 258.89L475.5 259.07L476.5 259.26L477.5 259.45L478.5 259.66L479.5 259.89L480.5 260.14L481.5 260.42L482.5 260.72L483.5 261.03L484.5 261.35L485.5 261.67L486.5 261.99L487.5 262.30L488.5 262.59L489.5 262.86L490.5 263.10L491.5 263.31L492.5 263.50L493.5 263.67L494.5 263.84L495.5 264.01L496.5 264.18L497.5 264.37L498.5 264.58L499.5 264.81L500.5 265.08L501.5 265.39L502.5 265.72L503.5 266.08L504.5 266.46L505.5 266.86L506.5 267.27L507.5 267.69L508.5 268.10L509.5 268.52L510.5 268.93L511.5 269.33L512.5 269.71L513.5 270.07L514.5 270.41L515.5 270.71L516.5 270.99L517.5 271.22L518.5 271.40L519.5 271.52L520.5 271.59L521.5 271.58L522.5 271.49L523.5 271.32L524.5 271.05L525.5 270.69L526.5 270.21L527.5 269.62L528.5 268.93L529.5 268.15L530.5 267.29L531.5 266.37L532.5 265.40L533.5 264.40L534.5 263.39L535.5 262.37L536.5 261.37L537.5 260.40L538.5 259.47L539.5 258.60L540.5 257.80L541.5 257.09L542.5 256.49L543.5 255.99L544.5 255.58L545.5 255.20L546.5 254.80L547.5 254.34L548.5 253.77L549.5 253.07L550.5 252.27L551.5 251.38L552.5 250.43L553.5 249.43L554.5 248.39L555.5 247.32L556.5 246.18L557.5 244.98L558.5 243.76L559.5 242.54L560.5 241.33L561.5 240.16L562.5 239.02L563.5 237.90L564.5 236.80L565.5 235.72L566.5 234.65L567.5 233.61L568.5 232.60L569.5 231.64L570.5 230.72L571.5 229.87L572.5 229.09L573.5 228.39L574.5 227.78L575.5 227.25L576.5 226.78L577.5 226.33L578.5 225.87L579.5 225.36L580.5 224.76L581.5 224.05L582.5 223.18L583.5 222.15L584.5 221.00L585.5 219.84L586.5 218.74L587.5 217.76L588.5 216.90L589.5 216.13L590.5 215.45L591.5 214.83L592.5 214.28L593.5 213.77L594.5 213.28L595.5 212.81L596.5 212.34L597.5 211.85L598.5 211.33L599.5 210.78L600.5 210.20L601.5 209.65L602.5 209.15L603.5 208.75L604.5 208.42L605.5 208.15L606.5 207.90L607.5 207.65L608.5 207.37L609.5 207.06L610.5 206.71L611.5 206.30L612.5 205.85L613.5 205.34L614.5 204.79L615.5 204.18L616.5 203.53L617.5 202.84L618.5 202.14L619.5 201.49L620.5 200.93L621.5 200.52L622.5 200.31L623.5 200.28L624.5 200.41L625.5 200.65L626.5 200.97L627.5 201.34L628.5 201.71L629.5 202.06L630.5 202.38L631.5 202.67L632.5 202.92L633.5 203.13L634.5 203.30L635.5 203.43L636.5 203.51L637.5 203.54L638.5 203.51L639.5 203.43L640.5 203.29L641.5 203.12L642.5 202.93L643.5 202.73L644.5 202.53L645.5 202.34L646.5 202.20L647.5 202.13L648.5 202.18L649.5 202.35L650.5 202.70L651.5 203.25L652.5 204.02L653.5 204.96L654.5 205.95L655.5 206.86L656.5 207.65L657.5 208.35L658.5 208.96L659.5 209.48L660.5 209.94L661.5 210.35L662.5 210.71L663.5 211.04L664.5 211.34L665.5 211.63L666.5 211.93L667.5 212.23L668.5 212.56L669.5 212.92L670.5 213.33L671.5 213.79L672.5 214.32L673.5 214.93L673.9 215.20" stroke="#ff5252" stroke-width="1.8" fill="none" stroke-linejoin="round"/>
<path d="M9 166.4H80.5" stroke="#f5464f" stroke-width="1.5" fill="none"/>
<path d="M9 192H80.5" stroke="#ffe23b" stroke-width="1.5" fill="none"/>
<path d="M606.8 167.1L677.8 220.1" stroke="#0c0c0c" stroke-width="1.8" stroke-linecap="round" fill="none"/>
<path d="M575.2 239.8H676" stroke="#111" stroke-width="1.6" fill="none"/>
</g></g>
<text x="80" y="167.6" font-size="10.6" font-weight="bold" fill="#111" textLength="62" lengthAdjust="spacingAndGlyphs">14-day SMA</text>
<text x="79.5" y="192.3" font-size="10.6" font-weight="bold" fill="#111" textLength="62.5" lengthAdjust="spacingAndGlyphs">50-day SMA</text>
<g clip-path="url(#cs)" fill="none" stroke-linejoin="round" stroke-linecap="round" stroke-width="2.35"><g filter="url(#bl)">
<path d="M9.0 362.0L12.4 358.0L16.0 364.0L20.0 369.0L23.6 370.0L27.0 378.0L30.0 385.6L33.0 385.0L36.0 378.0L39.0 352.0L42.0 342.0L44.0 322.0L47.0 305.0L50.0 304.6L52.4 310.0L55.0 322.0L58.0 333.0L62.0 332.0L66.0 324.0L69.0 316.0L72.0 314.0L75.0 309.0L79.0 304.6L84.0 305.0L88.0 306.0L92.0 305.0L94.0 306.0L96.0 314.0L98.0 334.0L100.0 364.0L102.4 388.0L105.0 378.0L108.0 373.6L111.0 378.0L114.0 386.0L118.0 387.6L122.0 389.0L126.0 384.0L130.0 378.0L134.0 377.6L136.0 379.0L138.0 372.0L140.0 350.0L141.6 341.6L144.0 342.4L145.0 343.0L148.0 339.0L150.0 322.0L152.4 307.6L156.0 307.6L160.0 306.4L164.0 306.4L167.0 312.0L171.0 317.6L174.0 315.0L177.0 316.4L181.0 318.0L185.0 310.0L188.0 307.0L190.4 304.4L192.4 324.0L194.4 358.0L196.4 387.0L200.0 387.6L204.0 389.0L207.0 382.0L209.6 374.0L211.6 367.0L215.0 371.0L218.4 373.6L221.0 366.0L223.0 346.0L225.0 322.0L227.0 304.6L230.0 304.6L233.0 307.0L236.0 312.0L238.0 328.0L240.0 344.0L242.4 350.4L245.6 347.0L248.0 351.0L250.0 360.0L253.0 374.0L256.0 384.0L259.0 388.4L262.0 384.0L265.0 368.0L268.0 348.0L271.0 328.0L273.0 318.0L275.6 310.4L277.6 308.0L280.0 315.0L283.0 319.0L286.0 320.0L288.4 332.0L291.0 345.0L293.6 350.0L296.0 336.0L298.4 318.0L301.0 311.6L304.0 311.0L306.4 312.0L309.0 326.0L311.0 348.0L313.0 366.0L315.0 379.0L317.6 385.6L321.0 386.4L325.0 388.4L328.0 389.0L330.0 382.0L332.0 364.0L334.0 351.0L336.4 349.0L338.4 338.0L340.4 322.0L342.4 313.0L344.0 311.6L346.0 318.0L348.0 324.0L351.0 325.0L353.6 318.0L356.0 313.6L358.6 312.4L360.4 320.0L362.4 336.0L364.4 354.0L366.4 368.0L368.4 380.0L371.0 389.0L375.0 389.6L379.0 389.0L382.0 382.0L384.4 376.0L386.6 370.4L389.0 374.0L391.0 366.0L393.0 348.0L395.0 328.0L397.0 315.0L399.0 313.6L401.0 318.0L403.0 328.0L405.0 330.4L407.0 322.0L409.0 312.0L411.0 306.0L413.6 306.0L416.0 312.0L418.0 322.0L420.0 338.0L422.0 352.0L424.0 362.0L426.0 352.0L428.0 328.0L429.6 310.0L431.0 307.0L432.4 316.0L434.0 315.0L436.4 313.6L438.4 307.0L439.6 305.6L441.6 311.0L443.6 320.0L446.0 334.0L448.4 348.0L451.0 362.0L453.0 370.0L455.6 374.0L457.6 373.6L459.0 362.0L461.0 360.0L463.6 359.6L466.0 356.0L468.4 342.0L470.4 326.0L472.0 319.0L474.0 318.0L476.0 325.0L478.4 329.0L480.4 320.0L482.4 320.4L484.4 324.0L487.0 328.0L489.0 336.0L491.6 341.0L493.6 349.0L495.6 339.0L497.6 346.0L499.6 349.0L501.6 358.0L504.0 368.0L506.4 378.0L509.0 385.0L511.6 376.0L514.0 377.0L516.0 380.0L517.6 374.0L519.0 358.0L520.4 334.0L522.0 314.0L523.6 307.0L526.0 305.0L529.0 304.6L532.0 304.6L535.0 304.6L538.0 305.0L540.0 307.0L542.0 314.0L544.0 326.0L546.4 339.0L549.0 346.0L551.6 349.0L553.6 340.0L555.6 328.0L558.0 320.0L560.0 319.0L562.4 319.6L564.4 322.0L566.4 331.0L569.0 329.0L571.0 326.0L573.0 323.0L575.0 334.0L577.0 354.0L579.0 372.0L581.6 380.0L583.6 368.0L585.6 348.0L588.0 332.0L590.0 327.0L592.0 335.0L594.4 340.0L596.4 366.0L599.0 362.0L601.0 368.0L603.0 359.0L605.0 366.0L607.0 376.0L610.0 380.0L612.4 372.0L615.0 356.0L617.6 338.0L619.6 324.0L621.0 319.6L623.0 336.0L625.0 364.0L627.0 387.0L630.0 387.6L633.0 386.0L636.0 382.0L639.0 376.0L641.0 366.0L643.0 362.4L646.0 362.0L649.0 363.0L651.0 370.0L653.6 380.0L656.0 379.0L658.0 368.0L660.0 354.0L662.0 353.0L664.4 357.0L667.0 358.0L669.6 362.0L672.0 367.0L673.6 363.0" stroke="#0094ff" stroke-opacity="0.5"/>
<path d="M9.1 375.5L11.3 361.5L13.5 360.3L15.7 360.9L17.9 363.2L20.1 366.3L22.3 368.3L24.4 370.2L26.6 372.9L28.8 377.3L31.0 381.7L33.2 384.2L35.4 383.1L37.6 376.1L39.8 364.4L41.9 352.0L44.1 337.6L46.3 324.1L48.5 311.6L50.7 306.6L52.9 307.7L55.1 313.5L57.3 321.6L59.4 328.4L61.6 331.7L63.8 331.0L66.0 328.1L68.2 323.5L70.4 319.1L72.6 315.4L74.8 312.5L76.9 309.8L79.1 307.0L81.3 305.4L83.5 304.8L85.7 305.1L87.9 305.5L90.1 305.6L92.3 305.5L94.4 306.1L96.6 311.1L98.8 324.8L101.0 346.8L103.2 368.4L105.4 378.8L107.6 378.9L109.8 376.0L111.9 377.0L114.1 380.9L116.3 384.5L118.5 386.9L120.7 387.7L122.9 388.1L125.1 387.2L127.3 385.1L129.4 382.0L131.6 379.6L133.8 378.1L136.0 378.2L138.2 375.5L140.4 365.7L142.6 353.3L144.7 344.3L146.9 341.7L149.1 337.6L151.3 328.0L153.5 317.1L155.7 309.8L157.9 307.4L160.1 307.0L162.2 306.6L164.4 306.7L166.6 308.3L168.8 311.0L171.0 314.5L173.2 315.9L175.4 316.3L177.6 316.0L179.7 316.6L181.9 316.8L184.1 315.1L186.3 312.2L188.5 309.0L190.7 307.4L192.9 315.2L195.1 335.6L197.2 362.2L199.4 380.7L201.6 387.6L203.8 388.2L206.0 387.1L208.2 383.9L210.4 378.0L212.6 372.6L214.7 370.0L216.9 370.4L219.1 371.6L221.3 369.0L223.5 358.2L225.7 339.7L227.9 320.3L230.1 308.4L232.2 305.2L234.4 306.8L236.6 310.9L238.8 320.2L241.0 332.7L243.2 343.5L245.4 347.8L247.6 349.0L249.7 352.1L251.9 359.4L254.1 368.5L256.3 377.0L258.5 383.3L260.7 386.0L262.9 384.3L265.1 377.7L267.2 366.7L269.4 353.1L271.6 338.8L273.8 326.4L276.0 316.8L278.2 311.8L280.4 311.7L282.5 314.5L284.7 317.8L286.9 320.9L289.1 326.6L291.3 335.2L293.5 343.6L295.7 344.4L297.9 336.6L300.0 324.6L302.2 315.8L304.4 312.2L306.6 311.9L308.8 316.4L311.0 328.6L313.2 346.6L315.4 364.9L317.5 377.5L319.7 383.8L321.9 386.1L324.1 387.0L326.3 387.8L328.5 388.0L330.7 384.0L332.9 373.9L335.0 361.5L337.2 351.0L339.4 341.5L341.6 330.3L343.8 319.4L346.0 315.4L348.2 317.9L350.4 322.3L352.5 323.2L354.7 320.5L356.9 316.7L359.1 314.5L361.3 318.3L363.5 329.1L365.7 345.2L367.9 361.8L370.0 375.1L372.2 383.9L374.4 388.1L376.6 389.4L378.8 389.3L381.0 387.6L383.2 384.2L385.4 379.0L387.5 374.8L389.7 372.2L391.9 366.9L394.1 355.3L396.3 338.1L398.5 323.5L400.7 317.0L402.9 319.5L405.0 324.9L407.2 326.1L409.4 320.6L411.6 312.5L413.8 307.7L416.0 308.1L418.2 313.9L420.3 325.2L422.5 339.5L424.7 351.2L426.9 351.4L429.1 338.4L431.3 321.9L433.5 313.3L435.7 312.7L437.8 312.7L440.0 309.9L442.2 309.8L444.4 315.1L446.6 325.3L448.8 337.4L451.0 349.8L453.2 360.7L455.3 368.6L457.5 372.5L459.7 369.5L461.9 364.9L464.1 360.0L466.3 357.7L468.5 351.6L470.7 340.2L472.8 328.3L475.0 321.7L477.2 322.4L479.4 324.4L481.6 323.9L483.8 322.5L486.0 323.2L488.2 327.3L490.3 332.5L492.5 338.6L494.7 342.2L496.9 343.9L499.1 345.1L501.3 349.5L503.5 356.9L505.7 365.7L507.8 374.2L510.0 379.4L512.2 379.9L514.4 378.4L516.6 377.2L518.8 372.0L521.0 355.1L523.2 332.1L525.3 313.8L527.5 306.4L529.7 305.0L531.9 304.7L534.1 304.6L536.3 304.7L538.5 304.9L540.7 306.5L542.8 311.3L545.0 320.0L547.2 330.6L549.4 339.7L551.6 345.5L553.8 344.8L556.0 338.2L558.1 328.6L560.3 321.9L562.5 319.6L564.7 320.7L566.9 324.6L569.1 327.6L571.3 328.4L573.5 326.7L575.6 330.5L577.8 342.5L580.0 359.0L582.2 371.0L584.4 370.5L586.6 359.3L588.8 343.9L591.0 334.1L593.1 332.8L595.3 340.1L597.5 351.3L599.7 360.2L601.9 364.1L604.1 363.6L606.3 366.4L608.5 371.0L610.6 376.0L612.8 375.0L615.0 367.7L617.2 355.3L619.4 340.7L621.6 330.2L623.8 332.2L626.0 348.7L628.1 369.7L630.3 383.2L632.5 387.0L634.7 385.8L636.9 383.4L639.1 379.9L641.3 373.8L643.5 367.8L645.6 363.3L647.8 362.3L650.0 363.7L652.2 367.9L654.4 373.6L656.6 376.7L658.8 372.7L661.0 364.0L663.1 357.0L665.3 355.3L667.5 357.0L669.7 359.5L671.9 362.6L674.1 364.0" stroke="#ff6a00" stroke-opacity="0.58"/>
</g></g>
<rect x="9" y="321.6" width="676.6" height="50.7" fill="#9915ff" fill-opacity="0.19"/>
<path d="M9 321.6H685.6M9 372.3H685.6" stroke="#808086" stroke-width="1.1" stroke-dasharray="4.4 5" stroke-dashoffset="0.6" fill="none"/>
<text y="39.4" font-size="10" fill="#555861" stroke="#555861" stroke-width="0.15"><tspan x="15.9" textLength="30.9" lengthAdjust="spacingAndGlyphs">Bitcoin</tspan> <tspan x="51.2" textLength="3.6" lengthAdjust="spacingAndGlyphs">/</tspan> <tspan x="58.8" textLength="18.2" lengthAdjust="spacingAndGlyphs">U.S.</tspan> <tspan x="80.8" textLength="28.4" lengthAdjust="spacingAndGlyphs">Dollar,</tspan> <tspan x="113.4" textLength="12.6" lengthAdjust="spacingAndGlyphs">1D,</tspan> <tspan x="131.6" textLength="38.4" lengthAdjust="spacingAndGlyphs">BINANCE</tspan> <tspan x="177.6" textLength="5.5" lengthAdjust="spacingAndGlyphs">O</tspan><tspan x="183.3" textLength="41.6" lengthAdjust="spacingAndGlyphs" fill="#53b987" stroke="#53b987">41651.15</tspan> <tspan x="231.6" textLength="5.3" lengthAdjust="spacingAndGlyphs">H</tspan><tspan x="237.2" textLength="41.6" lengthAdjust="spacingAndGlyphs" fill="#53b987" stroke="#53b987">43975.88</tspan> <tspan x="285.6" textLength="4.1" lengthAdjust="spacingAndGlyphs">L</tspan><tspan x="290" textLength="41.2" lengthAdjust="spacingAndGlyphs" fill="#53b987" stroke="#53b987">41525.94</tspan> <tspan x="337.7" textLength="5.3" lengthAdjust="spacingAndGlyphs">C</tspan><tspan x="343.3" textLength="41.6" lengthAdjust="spacingAndGlyphs" fill="#53b987" stroke="#53b987">43503.25</tspan> <tspan x="391.5" textLength="41.1" lengthAdjust="spacingAndGlyphs" fill="#53b987" stroke="#53b987">+2148.84</tspan> <tspan x="436.2" textLength="37.3" lengthAdjust="spacingAndGlyphs" fill="#53b987" stroke="#53b987">(+5.20%)</tspan></text>
<path d="M685.7 23V430" stroke="#7e7e7e" stroke-width="1.4" fill="none"/>
<path d="M9 291.4H741M9 406.6H741" stroke="#747474" stroke-width="1.3" fill="none"/>
<clipPath id="cp"><rect x="686" y="23" width="56" height="267.8"/></clipPath><g clip-path="url(#cp)">
<text x="694" y="291.3" font-size="9.2" fill="#555861" stroke="#555861" stroke-width="0.15" textLength="38" lengthAdjust="spacingAndGlyphs">30000.00</text>
<text x="694" y="267.1" font-size="9.2" fill="#555861" stroke="#555861" stroke-width="0.15" textLength="38" lengthAdjust="spacingAndGlyphs">35000.00</text>
<text x="694" y="218.2" font-size="9.2" fill="#555861" stroke="#555861" stroke-width="0.15" textLength="38" lengthAdjust="spacingAndGlyphs">45000.00</text>
<text x="694" y="193.7" font-size="9.2" fill="#555861" stroke="#555861" stroke-width="0.15" textLength="38" lengthAdjust="spacingAndGlyphs">50000.00</text>
<text x="694" y="169.8" font-size="9.2" fill="#555861" stroke="#555861" stroke-width="0.15" textLength="38" lengthAdjust="spacingAndGlyphs">55000.00</text>
<text x="694" y="145.6" font-size="9.2" fill="#555861" stroke="#555861" stroke-width="0.15" textLength="38" lengthAdjust="spacingAndGlyphs">60000.00</text>
<text x="694" y="121.3" font-size="9.2" fill="#555861" stroke="#555861" stroke-width="0.15" textLength="38" lengthAdjust="spacingAndGlyphs">65000.00</text>
<text x="694" y="97.0" font-size="9.2" fill="#555861" stroke="#555861" stroke-width="0.15" textLength="38" lengthAdjust="spacingAndGlyphs">70000.00</text>
<text x="694" y="73.1" font-size="9.2" fill="#555861" stroke="#555861" stroke-width="0.15" textLength="38" lengthAdjust="spacingAndGlyphs">75000.00</text>
<text x="694" y="48.3" font-size="9.2" fill="#555861" stroke="#555861" stroke-width="0.15" textLength="38" lengthAdjust="spacingAndGlyphs">80000.00</text>
</g>
<text x="694" y="392.3" font-size="9.2" fill="#555861" stroke="#555861" stroke-width="0.15" textLength="18.0" lengthAdjust="spacingAndGlyphs">0.00</text>
<text x="694" y="358.5" font-size="9.2" fill="#555861" stroke="#555861" stroke-width="0.15" textLength="22.8" lengthAdjust="spacingAndGlyphs">40.00</text>
<text x="694" y="324.7" font-size="9.2" fill="#555861" stroke="#555861" stroke-width="0.15" textLength="22.8" lengthAdjust="spacingAndGlyphs">80.00</text>
<rect x="701.9" y="27.6" width="23" height="15" rx="3" fill="#fff" stroke="#e4e6ec" stroke-width="1"/>
<text x="705.7" y="38.9" font-size="9.4" fill="#555861" textLength="15.8" lengthAdjust="spacingAndGlyphs">USD</text>
<rect x="685.2" y="216.1" width="51.8" height="36.2" rx="1" fill="#53b987"/>
<text x="694" y="226.8" font-size="9.2" fill="#15281e" stroke="#15281e" stroke-width="0.3" textLength="38" lengthAdjust="spacingAndGlyphs">43503.25</text>
<text x="694" y="238" font-size="9.2" fill="#15281e" stroke="#15281e" stroke-width="0.3" textLength="38" lengthAdjust="spacingAndGlyphs">+121.78%</text>
<text x="694" y="249.2" font-size="9.2" fill="#15281e" stroke="#15281e" stroke-width="0.3" textLength="36" lengthAdjust="spacingAndGlyphs">16:23:13</text>
<g clip-path="url(#ct)">
<text x="2.7" y="420.9" font-size="9.4" fill="#555861" textLength="17" lengthAdjust="spacingAndGlyphs">Dec</text>
<text x="67.8" y="420.9" font-size="9.4" fill="#555861" textLength="21" lengthAdjust="spacingAndGlyphs" font-weight="bold">2021</text>
<text x="139.2" y="420.9" font-size="9.4" fill="#555861" textLength="14.5" lengthAdjust="spacingAndGlyphs">Feb</text>
<text x="268.4" y="420.9" font-size="9.4" fill="#555861" textLength="14.5" lengthAdjust="spacingAndGlyphs">Apr</text>
<text x="333.3" y="420.9" font-size="9.4" fill="#555861" textLength="16" lengthAdjust="spacingAndGlyphs">May</text>
<text x="402.4" y="420.9" font-size="9.4" fill="#555861" textLength="14" lengthAdjust="spacingAndGlyphs">Jun</text>
<text x="468.8" y="420.9" font-size="9.4" fill="#555861" textLength="11.5" lengthAdjust="spacingAndGlyphs">Jul</text>
<text x="535.0" y="420.9" font-size="9.4" fill="#555861" textLength="15.5" lengthAdjust="spacingAndGlyphs">Aug</text>
<text x="603.3" y="420.9" font-size="9.4" fill="#555861" textLength="15" lengthAdjust="spacingAndGlyphs">Sep</text>
<text x="668.4" y="420.9" font-size="9.4" fill="#555861" textLength="14" lengthAdjust="spacingAndGlyphs">Oct</text>
</g>
<g fill="#1e222d" transform="translate(0 -0.9)"><path d="M8.5 441.2h7v8.2h-3.6v-4.6h-3.4z"/><circle cx="17.9" cy="443" r="1.8"/><path d="M21.2 441.2h4.2l-3.5 8.2h-4.2z"/></g>
<text x="28.6" y="448.6" font-size="11.4" fill="#3a3d46" textLength="59.4" lengthAdjust="spacingAndGlyphs">TradingView</text>
</svg></body></html>
